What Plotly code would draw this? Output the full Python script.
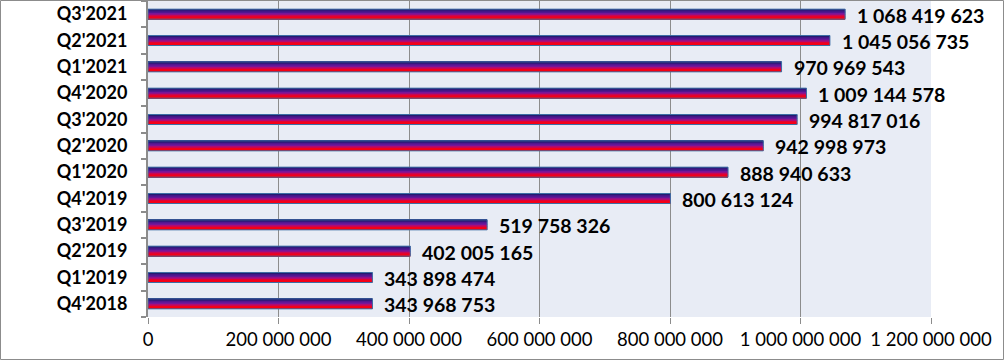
import plotly.graph_objects as go

# ---- data ----
quarters = ["Q4'2018", "Q1'2019", "Q2'2019", "Q3'2019", "Q4'2019", "Q1'2020",
            "Q2'2020", "Q3'2020", "Q4'2020", "Q1'2021", "Q2'2021", "Q3'2021"]
values = [343968753, 343898474, 402005165, 519758326, 800613124, 888940633,
          942998973, 994817016, 1009144578, 970969543, 1045056735, 1068419623]
x_tickvals = [0, 200000000, 400000000, 600000000, 800000000, 1000000000, 1200000000]
x_ticktext = ["0", "200 000 000", "400 000 000", "600 000 000", "800 000 000",
              "1 000 000 000", "1 200 000 000"]

# ---- layout geometry ----
W, H = 1004, 360
ML, MR, MT, MB = 148, 73, 1, 43
PW, PH = W - ML - MR, H - MT - MB

BAR_W = 0.38
N_SLICES = 14
# gradient stops: position from bottom (0) to top (1)
stops = [(0.0, (255, 0, 0)), (0.28, (240, 0, 30)), (0.45, (180, 10, 110)),
         (0.62, (115, 22, 155)), (0.8, (70, 22, 140)), (1.0, (28, 28, 105))]


def grad_color(t):
    for (p0, c0), (p1, c1) in zip(stops[:-1], stops[1:]):
        if p0 <= t <= p1:
            f = 0 if p1 == p0 else (t - p0) / (p1 - p0)
            c = [round(a + (b - a) * f) for a, b in zip(c0, c1)]
            return "rgb(%d,%d,%d)" % tuple(c)
    return "rgb(%d,%d,%d)" % stops[-1][1]


fig = go.Figure()
slice_w = BAR_W / N_SLICES
for k in range(N_SLICES):
    t = (k + 0.5) / N_SLICES
    fig.add_trace(go.Bar(
        x=values, y=quarters, orientation="h",
        width=slice_w * 1.08, offset=-BAR_W / 2 + k * slice_w,
        marker=dict(color=grad_color(t), line=dict(width=0)),
        showlegend=False, hoverinfo="skip"))

# outline
fig.add_trace(go.Bar(
    x=values, y=quarters, orientation="h",
    width=BAR_W, offset=-BAR_W / 2,
    marker=dict(color="rgba(0,0,0,0)", line=dict(color="#3C6EA5", width=1)),
    showlegend=False, hoverinfo="x+y"))

annotations = []
for q, v in zip(quarters, values):
    annotations.append(dict(
        x=v, y=q, xref="x", yref="y",
        text="{:,}".format(v).replace(",", " "),
        showarrow=False, xanchor="left", yanchor="middle",
        xshift=10, yshift=-1,
        font=dict(family="Lato", size=19.5, color="#000000", weight="bold")))

fig.update_layout(
    width=W, height=H,
    margin=dict(l=ML, r=MR, t=MT, b=MB, pad=0),
    barmode="overlay",
    paper_bgcolor="#FFFFFF",
    plot_bgcolor="#E8ECF5",
    annotations=annotations,
    xaxis=dict(
        range=[0, 1200000000], tickvals=x_tickvals, ticktext=x_ticktext,
        showgrid=True, gridcolor="#8C8C8C", gridwidth=1,
        zeroline=False, showline=False, automargin=False,
        ticks="outside", ticklen=6, tickcolor="#8C8C8C", tickwidth=1,
        tickfont=dict(family="Lato", size=18.5, color="#000000"),
        fixedrange=True),
    yaxis=dict(
        type="category", categoryorder="array", categoryarray=quarters,
        range=[-0.5, len(quarters) - 0.5], automargin=False,
        tickson="boundaries", ticks="outside", ticklen=5,
        tickcolor="#8C8C8C", tickwidth=2,
        showline=True, linecolor="#8C8C8C", linewidth=2,
        showgrid=False, zeroline=False,
        ticklabelstandoff=15,
        tickfont=dict(family="Lato", size=18, color="#000000", weight="bold"),
        fixedrange=True),
    shapes=[dict(
        type="rect", xref="paper", yref="paper",
        x0=(0.5 - ML) / PW, x1=(W - 0.5 - ML) / PW,
        y0=(MT + PH - (H - 0.5)) / PH, y1=(MT + PH - 0.5) / PH,
        line=dict(color="#8C8C8C", width=1), fillcolor="rgba(0,0,0,0)",
        layer="above")],
)

fig.write_html("out.html", config={"displayModeBar": False},
               post_script="document.body.style.margin='0';")
